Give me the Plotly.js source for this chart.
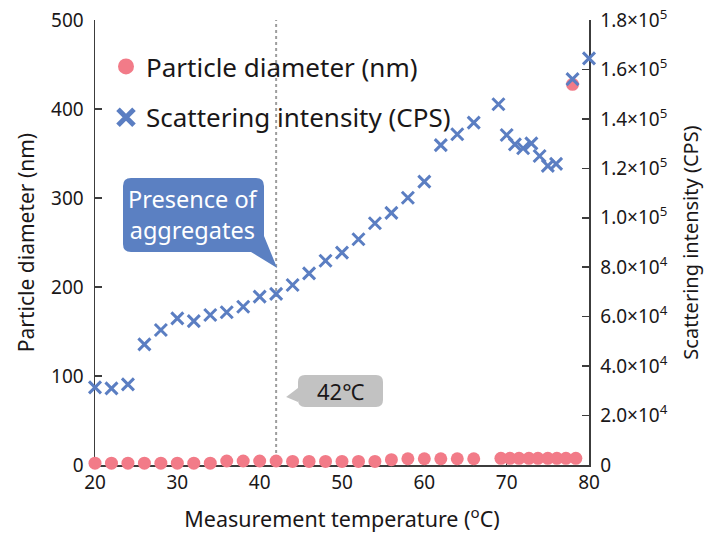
<!DOCTYPE html>
<html>
<head>
<meta charset="utf-8">
<script src="https://cdn.plot.ly/plotly-3.0.1.min.js"></script>
<style>
  html, body { margin: 0; padding: 0; background: #fff; }
  #chart { width: 704px; height: 534px; }
</style>
</head>
<body>
<div id="chart"></div>
<script>
// Scattering intensity (CPS) by measurement temperature (°C)
const scatterTemps = [20, 22, 24, 26, 28, 30, 32, 34, 36, 38, 40, 42, 44, 46, 48, 50, 52, 54, 56, 58, 60,
                      62, 64, 66, 69, 70, 71, 72, 73, 74, 75, 76, 78, 80];
const scatterCPS = [31400, 31000, 32600, 48800, 54600, 59300, 58200, 60700, 61800, 64000, 68100,
                    69200, 72800, 77500, 82600, 85900, 91300, 97800, 102000, 108100, 114600,
                    129400, 133800, 138500, 145900, 133500, 129700, 128100, 130100, 125000,
                    121000, 121800, 156100, 164500];

// Particle diameter (nm) by measurement temperature (°C)
const diameterTemps = [20, 22, 24, 26, 28, 30, 32, 34, 36, 38, 40, 42, 44, 46, 48, 50, 52, 54, 56, 58,
                       60, 62, 64, 66, 69.3, 70.4, 71.5, 72.7, 73.8, 75, 76.1, 77.2, 78, 78.4];
const diameterNm = [2, 2, 2, 2, 2, 2, 2, 2, 4.5, 4.5, 4.5, 4.5, 4, 4, 4, 4, 4, 4, 6, 7,
                    7, 7, 7, 7, 7.5, 7.5, 7.5, 7.5, 7.5, 7.5, 7.5, 7.5, 427.7, 7.5];

// Axis ticks
const leftTicks = [0, 100, 200, 300, 400, 500];
const rightTicks = [0, 20000, 40000, 60000, 80000, 100000, 120000, 140000, 160000, 180000];
const rightTickText = ['0', '2.0×10<sup>4</sup>', '4.0×10<sup>4</sup>', '6.0×10<sup>4</sup>',
                       '8.0×10<sup>4</sup>', '1.0×10<sup>5</sup>', '1.2×10<sup>5</sup>',
                       '1.4×10<sup>5</sup>', '1.6×10<sup>5</sup>', '1.8×10<sup>5</sup>'];
const xTicks = [20, 30, 40, 50, 60, 70, 80];

// Marked transition temperature
const transitionTemp = 42;

const PINK = '#f27b88';
const BLUE = '#5b7ec2';
const INK = '#1a1718';
const AXIS = '#3c3c3c';
const FONT = 'Noto Sans, Open Sans, DejaVu Sans, sans-serif';

// plot area in pixels
const W = 704, H = 534;
const M = { l: 95, r: 115, t: 20, b: 69 };
const PW = W - M.l - M.r, PH = H - M.t - M.b;
const px = x => (x - M.l) / PW;
const py = y => (M.t + PH - y) / PH;

// rounded speech-bubble outline in paper coordinates
function bubble(x0, y0, x1, y1, r, tail) {
  const p = (x, y) => px(x).toFixed(5) + ',' + py(y).toFixed(5);
  let d = 'M' + p(x0 + r, y0) + ' L' + p(x1 - r, y0) + ' Q' + p(x1, y0) + ' ' + p(x1, y0 + r);
  if (tail.side === 'right') {
    d += ' L' + p(x1, tail.a) + ' L' + p(tail.tx, tail.ty) + ' L' + p(tail.b, y1);
    d += ' L' + p(x0 + r, y1);
  } else {
    d += ' L' + p(x1, y1 - r) + ' Q' + p(x1, y1) + ' ' + p(x1 - r, y1);
    d += ' L' + p(x0 + r, y1);
  }
  d += ' Q' + p(x0, y1) + ' ' + p(x0, y1 - r);
  if (tail.side === 'left') {
    d += ' L' + p(x0, tail.b) + ' L' + p(tail.tx, tail.ty) + ' L' + p(x0, tail.a);
  }
  d += ' L' + p(x0, y0 + r) + ' Q' + p(x0, y0) + ' ' + p(x0 + r, y0) + ' Z';
  return d;
}

const xPix = M.l + (transitionTemp - 20) / 60 * PW;

const traces = [
  {
    x: diameterTemps, y: diameterNm, type: 'scatter', mode: 'markers',
    name: 'Particle diameter (nm)', showlegend: false, cliponaxis: false,
    marker: { color: PINK, size: 13, symbol: 'circle' }
  },
  {
    x: scatterTemps, y: scatterCPS, type: 'scatter', mode: 'markers', yaxis: 'y2',
    name: 'Scattering intensity (CPS)', showlegend: false, cliponaxis: false,
    marker: { color: BLUE, size: 12, symbol: 'x-thin', line: { color: BLUE, width: 3 } }
  },
  {
    x: [null], y: [null], type: 'scatter', mode: 'markers', legendgroup: 'a',
    name: 'Particle diameter (nm)',
    marker: { color: PINK, size: 18, symbol: 'circle' }
  },
  {
    x: [null], y: [null], type: 'scatter', mode: 'markers', yaxis: 'y2', legendgroup: 'b',
    name: 'Scattering intensity (CPS)',
    marker: { color: BLUE, size: 16, symbol: 'x-thin', line: { color: BLUE, width: 5 } }
  }
];

const axisCommon = {
  showline: true, linecolor: AXIS, linewidth: 1.5,
  ticks: 'inside', ticklen: 7, tickwidth: 1.5, tickcolor: AXIS,
  showgrid: false, zeroline: false, fixedrange: true,
  tickfont: { family: FONT, size: 19, color: INK }
};

const layout = {
  width: W, height: H,
  margin: M,
  paper_bgcolor: '#fff', plot_bgcolor: '#fff',
  font: { family: FONT, color: INK },
  showlegend: true,
  legend: {
    x: px(106), y: py(43), xanchor: 'left', yanchor: 'top',
    bgcolor: 'rgba(0,0,0,0)', font: { family: FONT, size: 26, color: INK },
    traceorder: 'grouped', tracegroupgap: 14, itemclick: false
  },
  xaxis: Object.assign({}, axisCommon, {
    range: [20, 80], tickvals: xTicks, layer: 'below traces',
    title: { text: 'Measurement temperature (<sup>o</sup>C)', font: { family: FONT, size: 21.5, color: INK }, standoff: 17 }
  }),
  yaxis: Object.assign({}, axisCommon, {
    range: [0, 500], tickvals: leftTicks, layer: 'below traces', ticklabelstandoff: 6,
    title: { text: 'Particle diameter (nm)', font: { family: FONT, size: 21, color: INK }, standoff: 10 }
  }),
  yaxis2: Object.assign({}, axisCommon, {
    overlaying: 'y', side: 'right', range: [0, 180000],
    tickvals: rightTicks, ticktext: rightTickText, layer: 'below traces', ticklabelstandoff: 6,
    title: { text: 'Scattering intensity (CPS)', font: { family: FONT, size: 20, color: INK }, standoff: 17 }
  }),
  shapes: [
    {
      type: 'line', xref: 'x', yref: 'paper', x0: transitionTemp, x1: transitionTemp, y0: 0, y1: 1,
      line: { color: '#9d9d9d', width: 2, dash: 'dot' }, layer: 'below'
    },
    {
      type: 'path', xref: 'paper', yref: 'paper', layer: 'above',
      path: bubble(123, 178, 264, 252, 8, { side: 'right', a: 236, b: 251, tx: xPix + 1, ty: 268 }),
      fillcolor: '#5b80c2', line: { width: 0 }
    },
    {
      type: 'path', xref: 'paper', yref: 'paper', layer: 'above',
      path: bubble(298, 375, 383, 407, 7, { side: 'left', a: 388, b: 402, tx: xPix + 10, ty: 397 }),
      fillcolor: '#c2c2c2', line: { width: 0 }
    }
  ],
  annotations: [
    {
      xref: 'paper', yref: 'paper', x: px(193.5), y: py(214), xanchor: 'center', yanchor: 'middle',
      showarrow: false, text: 'Presence of<br>aggregates', align: 'center',
      font: { family: FONT, size: 23.5, color: '#ffffff' }
    },
    {
      xref: 'paper', yref: 'paper', x: px(340.5), y: py(391), xanchor: 'center', yanchor: 'middle',
      showarrow: false, text: transitionTemp + '℃', align: 'center',
      font: { family: FONT, size: 22, color: INK }
    }
  ]
};

Plotly.newPlot('chart', traces, layout, { displayModeBar: false, staticPlot: true });
</script>
</body>
</html>
